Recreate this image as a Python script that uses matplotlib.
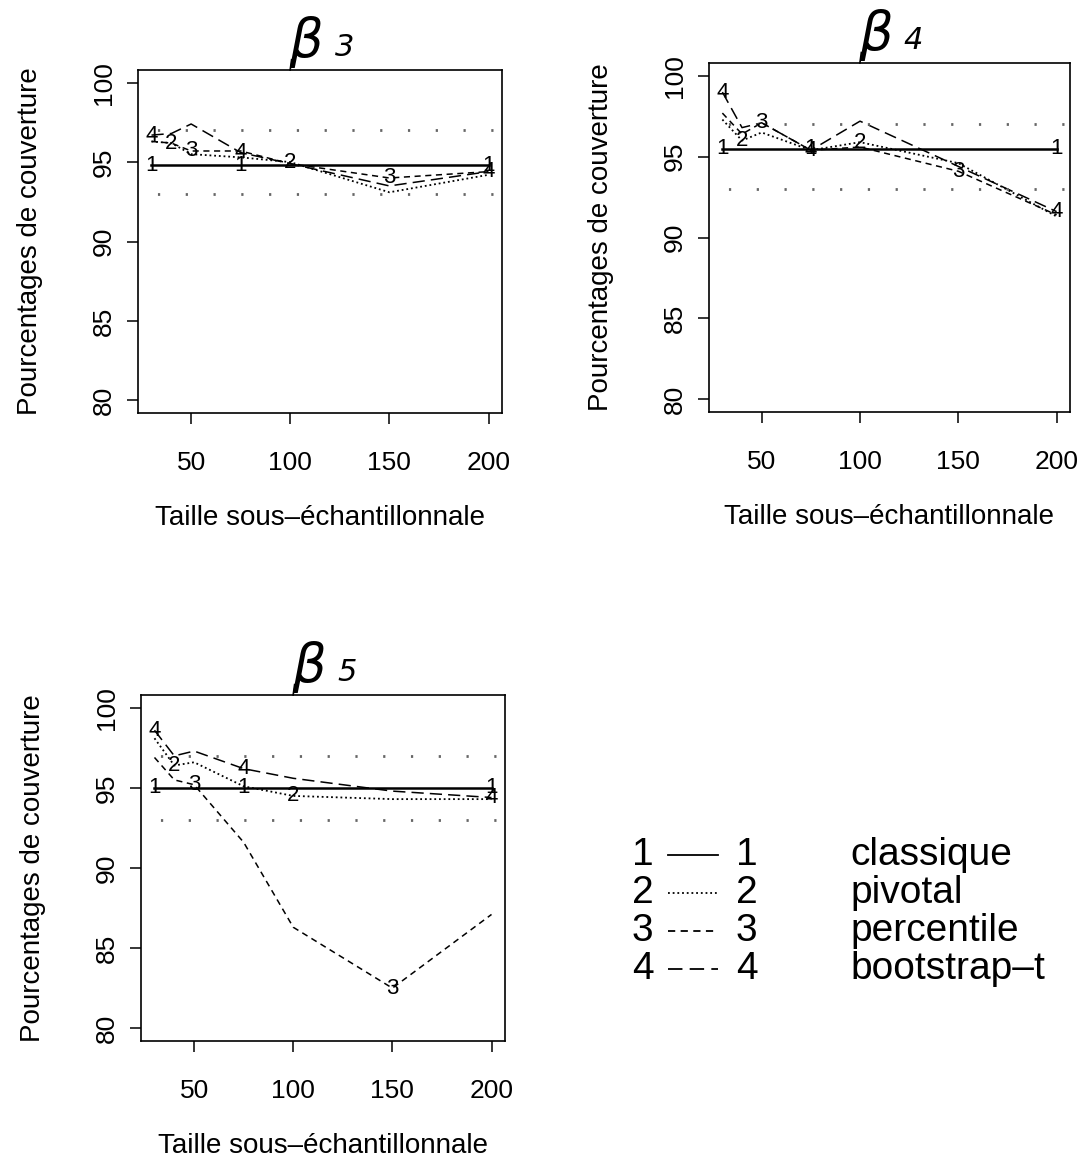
import matplotlib
matplotlib.use("Agg")
import matplotlib.pyplot as plt
from matplotlib.lines import Line2D

plt.rcParams["font.family"] = ["Liberation Sans", "DejaVu Sans"]

# sub-sample sizes
sizes = [30, 40, 50, 75, 100, 150, 200]

# coverage (%) per method, one set per parameter
b3_classique = [94.8, 94.8, 94.8, 94.8, 94.8, 94.8, 94.8]
b3_pivotal = [96.3, 96.2, 95.5, 95.3, 95.0, 93.1, 94.2]
b3_percentile = [96.3, 96.2, 95.7, 95.7, 94.9, 94.0, 94.4]
b3_boot_t = [96.7, 96.8, 97.4, 95.6, 94.9, 93.5, 94.4]

b4_classique = [95.5, 95.5, 95.5, 95.5, 95.5, 95.5, 95.5]
b4_pivotal = [97.3, 96.0, 96.5, 95.4, 95.9, 94.6, 91.3]
b4_percentile = [97.7, 96.4, 97.1, 95.4, 95.6, 94.1, 91.4]
b4_boot_t = [99.0, 96.8, 97.1, 95.4, 97.2, 94.4, 91.6]

b5_classique = [95.0, 95.0, 95.0, 95.0, 95.0, 95.0, 95.0]
b5_pivotal = [98.1, 96.4, 96.6, 95.1, 94.5, 94.3, 94.3]
b5_percentile = [96.9, 95.5, 95.2, 91.6, 86.3, 82.5, 87.1]
b5_boot_t = [98.6, 97.0, 97.3, 96.2, 95.6, 94.8, 94.4]

# reference band
band_low, band_high = 93.0, 97.0

methods = ["classique", "pivotal", "percentile", "bootstrap\u2013t"]
yticks = [80, 85, 90, 95, 100]
xticks = [50, 100, 150, 200]

panels = [
    ("3", [b3_classique, b3_pivotal, b3_percentile, b3_boot_t]),
    ("4", [b4_classique, b4_pivotal, b4_percentile, b4_boot_t]),
    ("5", [b5_classique, b5_pivotal, b5_percentile, b5_boot_t]),
]

# which points get the curve number written on them
label_idx = [[0, 3, 6], [1, 4], [2, 5], [0, 3, 6]]
styles = [
    dict(ls="-", lw=1.8),
    dict(ls=(0, (1, 1.6)), lw=1.3),
    dict(ls=(0, (4, 3)), lw=1.1),
    dict(ls=(0, (8, 4)), lw=1.1),
]

fig = plt.figure(figsize=(10.9, 11.64), dpi=100)
W, H = 1090, 1164
boxes = [(138, 70, 502, 413), (709, 63, 1070, 412), (141, 695, 505, 1041)]


for (sub, series), (l, t, r, b) in zip(panels, boxes):
    ax = fig.add_axes([l / W, 1 - b / H, (r - l) / W, (b - t) / H])
    for k, (vals, st) in enumerate(zip(series, styles)):
        ax.plot(sizes, vals, color="black", **st)
        for i in label_idx[k]:
            ax.text(sizes[i], vals[i], str(k + 1), fontsize=16,
                    ha="center", va="center")
    for lev in (band_low, band_high):
        ax.axhline(lev, color="0.4", lw=2.0, ls=(3, (0.8, 9.2)))
    ax.set_xlim(23.2, 206.8)
    ax.set_ylim(79.2, 100.8)
    ax.set_xticks(xticks)
    ax.set_yticks(yticks)
    ax.tick_params(direction="out", length=8, width=1.1, labelsize=19)
    ax.tick_params(axis="x", pad=19)
    ax.tick_params(axis="y", pad=8)
    for lab in ax.get_yticklabels():
        lab.set_rotation(90)
        lab.set_va("center")
    for s in ax.spines.values():
        s.set_linewidth(1.2)
    ax.set_xlabel("Taille sous\u2013\u00e9chantillonnale", fontsize=20, labelpad=22)
    ax.set_ylabel("Pourcentages de couverture", fontsize=20, labelpad=35)
    # hand-drawn style parameter name, its tail touching the frame
    ax.text(0.415, 1.038, "\u03b2", transform=ax.transAxes, fontsize=38,
            style="italic", family="DejaVu Sans", ha="left", va="baseline")
    ax.text(0.54, 1.04, sub, transform=ax.transAxes, fontsize=22,
            style="italic", family="DejaVu Sans", ha="left", va="baseline")
    ax.plot([0.418, 0.422], [1.0, 1.03], transform=ax.transAxes,
            color="black", lw=1.2, clip_on=False)

# legend block
rows_y = [855, 893, 931, 969]
for k, (yy, name, st) in enumerate(zip(rows_y, methods, styles)):
    yf = 1 - yy / H
    fig.text(632 / W, yf, str(k + 1), fontsize=28, ha="left", va="center")
    fig.text(736 / W, yf, str(k + 1), fontsize=28, ha="left", va="center")
    fig.add_artist(Line2D([668 / W, 718 / W], [yf, yf], color="black",
                          ls=st["ls"], lw=1.3))
    fig.text(850 / W, yf, name, fontsize=28, ha="left", va="center")

fig.savefig("out.png", dpi=100)
